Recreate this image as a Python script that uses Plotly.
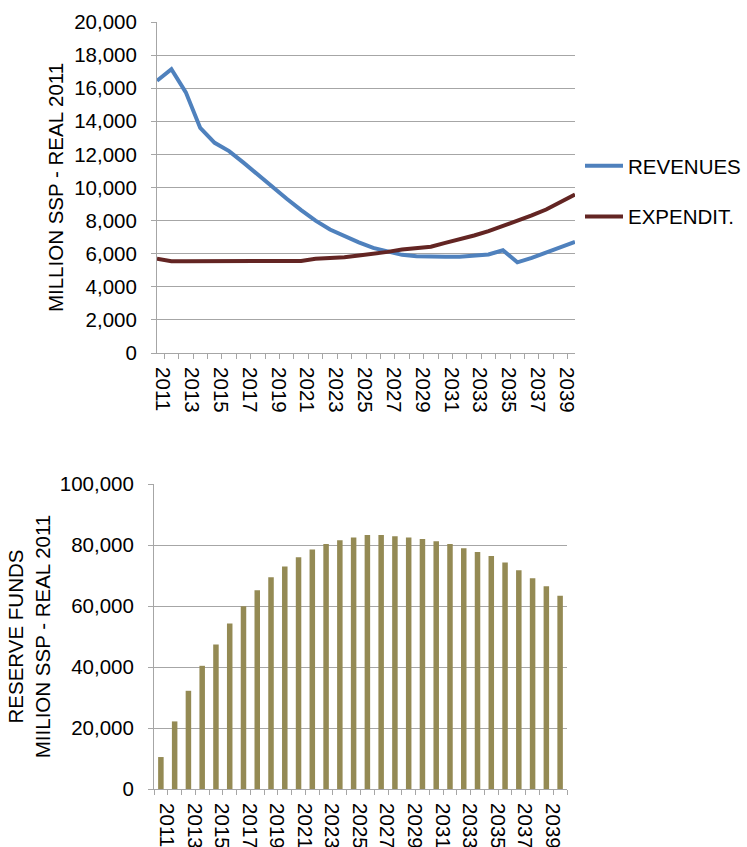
import plotly.graph_objects as go

# Fiscal projection, million SSP in real 2011 terms
years = ["2011", "2012", "2013", "2014", "2015", "2016", "2017", "2018", "2019", "2020",
         "2021", "2022", "2023", "2024", "2025", "2026", "2027", "2028", "2029", "2030",
         "2031", "2032", "2033", "2034", "2035", "2036", "2037", "2038", "2039", "2040"]

revenues = [16450, 17150, 15750, 13600, 12700, 12200, 11500, 10750, 10020, 9320,
            8630, 8000, 7460, 7060, 6690, 6350, 6130, 5930, 5850, 5810,
            5810, 5810, 5850, 5950, 6210, 5480, 5750, 6090, 6410, 6710]

expenditure = [5690, 5550, 5550, 5550, 5550, 5550, 5550, 5550, 5550, 5550,
               5560, 5690, 5710, 5790, 5890, 5990, 6110, 6250, 6330, 6420,
               6650, 6850, 7100, 7360, 7660, 7960, 8310, 8670, 9110, 9580]

reserve_funds = [10480, 22160, 32200, 40390, 47380, 54260, 59930, 65180, 69430, 72930,
                 75980, 78490, 80350, 81550, 82420, 83300, 83300, 82860, 82420, 81990,
                 81220, 80350, 78930, 77730, 76420, 74240, 71730, 69110, 66490, 63320]

tick_text = [y if i % 2 == 0 else "" for i, y in enumerate(years)]

FONT = "Liberation Sans, Arial, sans-serif"
FS = 20.5
GRID = "#a6a6a6"
W, H = 747, 847

fig = go.Figure()

fig.add_trace(go.Scatter(
    x=years, y=revenues, mode="lines", name="REVENUES",
    line=dict(color="#4f81bd", width=4),
    xaxis="x", yaxis="y", legendgroup="rev",
))
fig.add_trace(go.Scatter(
    x=years, y=expenditure, mode="lines", name="EXPENDIT.",
    line=dict(color="#632523", width=4),
    xaxis="x", yaxis="y", legendgroup="exp",
))
fig.add_trace(go.Bar(
    x=years, y=reserve_funds, marker=dict(color="#948a54", line=dict(width=0)),
    xaxis="x2", yaxis="y2", showlegend=False,
))

common_x = dict(
    type="category", tickson="boundaries", ticks="outside", ticklen=5,
    tickcolor=GRID, tickwidth=1, showline=True, linecolor=GRID, linewidth=1,
    showgrid=False, tickvals=years, ticktext=tick_text, tickangle=90,
    tickfont=dict(family=FONT, size=FS, color="black"),
    ticklabelstandoff=9, ticklabelshift=6,
    automargin=False,
)
common_y = dict(
    tickformat=",", ticks="outside", ticklen=5, tickcolor=GRID, tickwidth=1,
    showline=True, linecolor=GRID, linewidth=1, showgrid=True,
    gridcolor=GRID, gridwidth=1, zeroline=False,
    tickfont=dict(family=FONT, size=FS, color="black"),
    ticklabelstandoff=10, automargin=False,
)

fig.update_layout(
    width=W, height=H,
    margin=dict(l=0, r=0, t=0, b=0),
    paper_bgcolor="white", plot_bgcolor="white",
    font=dict(family=FONT, size=FS, color="black"),
    bargap=0.6,
    showlegend=True,
    legend=dict(
        x=580 / W, y=1 - 146 / H, xanchor="left", yanchor="top",
        font=dict(family=FONT, size=FS, color="black"),
        tracegroupgap=21, itemwidth=38, bgcolor="rgba(0,0,0,0)",
    ),
    xaxis=dict(domain=[157 / W, 575 / W], anchor="y", **common_x),
    yaxis=dict(
        domain=[1 - 353 / H, 1 - 22 / H], anchor="x",
        range=[0, 20000], dtick=2000,
        title=dict(text="MILLION SSP - REAL 2011", standoff=5,
                   font=dict(family=FONT, size=FS, color="black")),
        **common_y,
    ),
    xaxis2=dict(domain=[154 / W, 567 / W], anchor="y2", **common_x),
    yaxis2=dict(
        domain=[1 - 789 / H, 1 - 484 / H], anchor="x2",
        range=[0, 100000], dtick=20000,
        title=dict(text="RESERVE FUNDS<br>MIILION SSP - REAL 2011", standoff=3,
                   font=dict(family=FONT, size=FS, color="black")),
        **common_y,
    ),
)

fig.write_html("out.html")
